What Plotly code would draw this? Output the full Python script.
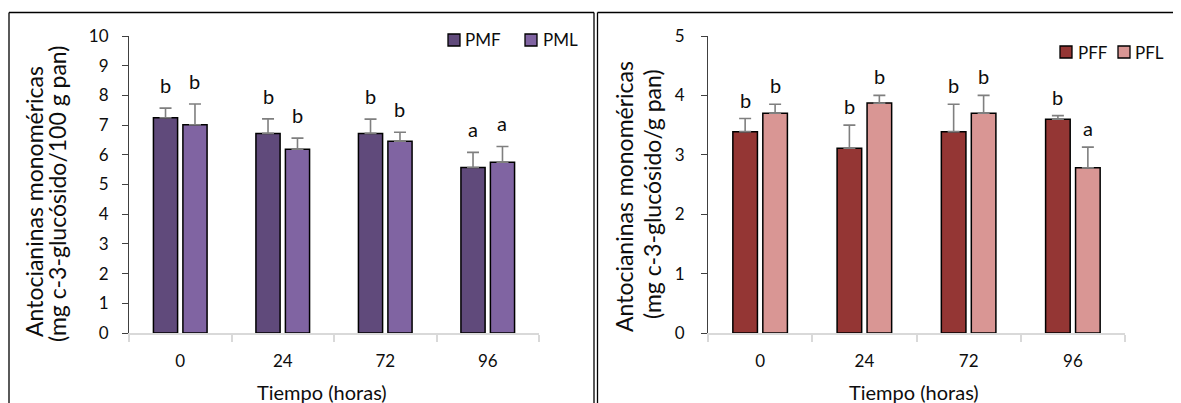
import plotly.graph_objects as go

# ---------------- data ----------------
categories = ["0", "24", "72", "96"]

left_names = ["PMF", "PML"]
pmf_values = [7.25, 6.72, 6.72, 5.57]
pmf_errors = [0.32, 0.49, 0.48, 0.51]
pml_values = [7.01, 6.19, 6.46, 5.75]
pml_errors = [0.70, 0.37, 0.30, 0.53]
pmf_letters = ["b", "b", "b", "a"]
pml_letters = ["b", "b", "b", "a"]

right_names = ["PFF", "PFL"]
pff_values = [3.39, 3.11, 3.39, 3.60]
pff_errors = [0.22, 0.39, 0.46, 0.06]
pfl_values = [3.70, 3.87, 3.70, 2.78]
pfl_errors = [0.15, 0.13, 0.30, 0.35]
pff_letters = ["b", "b", "b", "b"]
pfl_letters = ["b", "b", "b", "a"]

left_ticks = list(range(0, 11))
right_ticks = list(range(0, 6))

y_title_line1 = "Antocianinas monoméricas"
left_y_title_line2 = "(mg c-3-glucósido/100 g pan)"
right_y_title_line2 = "(mg c-3-glucósido/g pan)"
x_title = "Tiempo (horas)"

colors_left = ["#604a7b", "#8064a2"]
colors_right = ["#943634", "#d99694"]

# ---------------- layout geometry (screen pixels) ----------------
W, H = 1181, 403
OFF = 8  # page body margin offset
FONT = "Lato"
TXT = "#0d0d0d"

def px_x(p):
    return (p - OFF) / W

def px_y(p):
    return 1 - (p - OFF) / H

left_dom = [px_x(129), px_x(539)]
right_dom = [px_x(708), px_x(1125)]
y_dom = [px_y(333), px_y(36)]

BARGAP = 0.425
GROUPGAP = 0.18

fig = go.Figure()

def add_bars(values, errors, name, color, xa, ya):
    fig.add_trace(go.Bar(
        x=categories, y=values, name=name, xaxis=xa, yaxis=ya,
        marker=dict(color=color, line=dict(color="#000000", width=1.5)),
        error_y=dict(type="data", array=errors, arrayminus=[0] * len(errors),
                     symmetric=False, color="#7f7f7f", thickness=1.6, width=6),
        showlegend=False,
    ))

add_bars(pmf_values, pmf_errors, left_names[0], colors_left[0], "x", "y")
add_bars(pml_values, pml_errors, left_names[1], colors_left[1], "x", "y")
add_bars(pff_values, pff_errors, right_names[0], colors_right[0], "x2", "y2")
add_bars(pfl_values, pfl_errors, right_names[1], colors_right[1], "x2", "y2")

annotations = []
shapes = []

def add_letters(values, errors, letters, xa, ya, side, dom, yshift):
    cat_px = (dom[1] - dom[0]) * W / len(categories)
    slot = cat_px * (1 - BARGAP) / 2
    shift = side * slot / 2
    for i, (v, e, t) in enumerate(zip(values, errors, letters)):
        annotations.append(dict(
            x=i, y=v + e, xref=xa, yref=ya, text=t, showarrow=False,
            xanchor="center", yanchor="bottom", xshift=shift, yshift=yshift,
            font=dict(family=FONT, size=20, color=TXT),
        ))

add_letters(pmf_values, pmf_errors, pmf_letters, "x", "y", -1, left_dom, 9)
add_letters(pml_values, pml_errors, pml_letters, "x", "y", 1, left_dom, 9)
add_letters(pff_values, pff_errors, pff_letters, "x2", "y2", -1, right_dom, 5)
add_letters(pfl_values, pfl_errors, pfl_letters, "x2", "y2", 1, right_dom, 5)

def text_px(txt, x, y, size, angle=0, xanchor="center"):
    annotations.append(dict(
        x=px_x(x), y=px_y(y), xref="paper", yref="paper", text=txt,
        showarrow=False, textangle=angle, xanchor=xanchor, yanchor="middle",
        font=dict(family=FONT, size=size, color=TXT),
    ))

# y titles
text_px(y_title_line1, 34, 202, 23, -90)
text_px(left_y_title_line2, 57, 194, 23, -90)
text_px(y_title_line1, 624, 197, 23, -90)
text_px(right_y_title_line2, 652, 194, 23, -90)
# x titles
text_px(x_title, 322, 392, 20)
text_px(x_title, 914, 392, 20)

# legends (square + label)
def legend_item(name, color, sq_x, cy, txt_x):
    shapes.append(dict(type="rect", xref="paper", yref="paper",
                       x0=px_x(sq_x), x1=px_x(sq_x + 12),
                       y0=px_y(cy + 6), y1=px_y(cy - 6),
                       fillcolor=color, line=dict(color="#000000", width=1.3)))
    text_px(name, txt_x, cy, 17, 0, "left")

legend_item(left_names[0], colors_left[0], 448, 40, 463)
legend_item(left_names[1], colors_left[1], 525, 40, 541)
legend_item(right_names[0], colors_right[0], 1060, 52, 1076)
legend_item(right_names[1], colors_right[1], 1118, 52, 1133)

# panel frames
def vline(x, y0, y1):
    shapes.append(dict(type="line", xref="paper", yref="paper",
                       x0=px_x(x), x1=px_x(x), y0=px_y(y0), y1=px_y(y1),
                       line=dict(color="#000000", width=1.3)))

def hline(x0, x1, y):
    shapes.append(dict(type="line", xref="paper", yref="paper",
                       x0=px_x(x0), x1=px_x(x1), y0=px_y(y), y1=px_y(y),
                       line=dict(color="#000000", width=1.3)))

vline(9, 12.5, 420)
vline(594, 12.5, 420)
hline(9, 594, 12.5)
vline(597.5, 12.5, 420)
hline(597.5, 1200, 12.5)

xaxis_common = dict(
    type="category", range=[-0.5, len(categories) - 0.5],
    showline=True, linecolor="#d9d9d9", linewidth=1.5,
    ticks="outside", tickson="boundaries", ticklen=7, tickcolor="#d9d9d9",
    tickwidth=1.5, showgrid=False, zeroline=False, fixedrange=True,
    tickangle=0,
    tickfont=dict(family=FONT, size=17, color=TXT), ticklabelstandoff=12,
    automargin=False,
)
yaxis_common = dict(
    showline=True, linecolor="#404040", linewidth=1, ticks="outside",
    ticklen=6, tickcolor="#404040", showgrid=False, zeroline=False,
    tickfont=dict(family=FONT, size=17, color=TXT), automargin=False,
)

fig.update_layout(
    width=W, height=H,
    margin=dict(l=0, r=0, t=0, b=0),
    paper_bgcolor="white", plot_bgcolor="white",
    barmode="group", bargap=BARGAP, bargroupgap=GROUPGAP,
    showlegend=False,
    xaxis=dict(domain=left_dom, anchor="y", **xaxis_common),
    xaxis2=dict(domain=right_dom, anchor="y2", **xaxis_common),
    yaxis=dict(domain=y_dom, anchor="x", range=[0, 10], tickvals=left_ticks,
               ticklabelstandoff=10, **yaxis_common),
    yaxis2=dict(domain=y_dom, anchor="x2", range=[0, 5], tickvals=right_ticks,
                ticklabelstandoff=13, **yaxis_common),
    annotations=annotations,
    shapes=shapes,
)

fig.write_html("out.html")
